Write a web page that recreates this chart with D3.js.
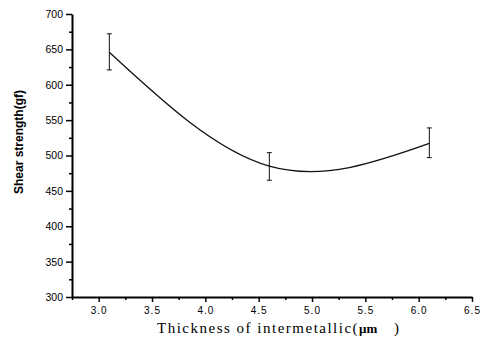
<!DOCTYPE html>
<html>
<head>
<meta charset="utf-8">
<script src="https://cdn.jsdelivr.net/npm/d3@7"></script>
<style>
  body { margin: 0; background: #fff; }
  svg { display: block; }
</style>
</head>
<body>
<div id="chart"></div>
<script>
// measured points: thickness (um), mean shear strength (gf), error bar low / high
let thickness = [3.1, 4.6, 6.1]
let strength = [646, 485, 517]
let err_low = [621, 465, 497]
let err_high = [672, 504, 539]

let x_ticks = [3.0, 3.5, 4.0, 4.5, 5.0, 5.5, 6.0, 6.5]
let y_ticks = [300, 350, 400, 450, 500, 550, 600, 650, 700]

let w = 480
let h = 343
let margin = {left: 72, right: 8, top: 14, bottom: 46}

let svg = d3.select("#chart").append("svg")
    .attr("width", w)
    .attr("height", h)

let x = d3.scaleLinear().domain([2.75, 6.5]).range([margin.left, w - margin.right])
let y = d3.scaleLinear().domain([300, 700]).range([h - margin.bottom, margin.top])

// minor ticks first
let x_minor = x_ticks.slice(0, -1).map(d => d + 0.25).concat([2.75])
let y_minor = y_ticks.slice(0, -1).map(d => d + 25)

svg.append("g")
    .attr("transform", `translate(0, ${y(300)})`)
    .call(d3.axisBottom(x).tickValues(x_minor).tickSize(3).tickFormat(""))
    .call(g => g.select(".domain").remove())
    .call(g => g.selectAll("line").attr("stroke-width", 1.5))

svg.append("g")
    .attr("transform", `translate(${x(2.75)}, 0)`)
    .call(d3.axisLeft(y).tickValues(y_minor).tickSize(3).tickFormat(""))
    .call(g => g.select(".domain").remove())
    .call(g => g.selectAll("line").attr("stroke-width", 1.5))

let x_axis = svg.append("g")
    .attr("transform", `translate(0, ${y(300)})`)
    .call(d3.axisBottom(x).tickValues(x_ticks).tickSize(5).tickSizeOuter(0).tickPadding(5)
        .tickFormat(d3.format(".1f")))
x_axis.select(".domain").attr("stroke-width", 2)
x_axis.selectAll("line").attr("stroke-width", 1.5)
x_axis.selectAll("text")
    .attr("font-family", "Liberation Sans, Arial, sans-serif")
    .attr("font-size", 10)
    .attr("letter-spacing", 1)
    .attr("fill", "#000")

let y_axis = svg.append("g")
    .attr("transform", `translate(${x(2.75)}, 0)`)
    .call(d3.axisLeft(y).tickValues(y_ticks).tickSize(6).tickSizeOuter(0).tickPadding(3))
y_axis.select(".domain").attr("stroke-width", 2)
y_axis.selectAll("line").attr("stroke-width", 1.5)
y_axis.selectAll("text")
    .attr("font-family", "Liberation Sans, Arial, sans-serif")
    .attr("font-size", 10.5)
    .attr("fill", "#000")

// fitted curve through the means
let line = d3.line()
    .x((d, i) => x(thickness[i]))
    .y(d => y(d))
    .curve(d3.curveNatural)

svg.append("path")
    .datum(strength)
    .attr("d", line)
    .attr("fill", "none")
    .attr("stroke", "#111")
    .attr("stroke-width", 1.3)

// error bars
let bars = svg.selectAll(".err")
    .data(thickness)
    .enter()
    .append("g")
    .attr("class", "err")

bars.append("line")
    .attr("x1", d => x(d)).attr("x2", d => x(d))
    .attr("y1", (d, i) => y(err_low[i]))
    .attr("y2", (d, i) => y(err_high[i]))
    .attr("stroke", "#111").attr("stroke-width", 1)

bars.selectAll(".cap")
    .data((d, i) => [[d, err_low[i]], [d, err_high[i]]])
    .enter()
    .append("line")
    .attr("x1", d => x(d[0]) - 2.5).attr("x2", d => x(d[0]) + 2.5)
    .attr("y1", d => y(d[1])).attr("y2", d => y(d[1]))
    .attr("stroke", "#111").attr("stroke-width", 1)

svg.append("text")
    .attr("transform", "translate(23, 142) rotate(-90)")
    .attr("text-anchor", "middle")
    .attr("font-family", "Liberation Sans, Arial, sans-serif")
    .attr("font-weight", "bold")
    .attr("font-size", 12)
    .attr("fill", "#000")
    .text("Shear strength(gf)")

let xlab = svg.append("text")
    .attr("y", 333)
    .attr("font-family", "Liberation Serif, Times New Roman, serif")
    .attr("font-size", 15)
    .attr("fill", "#000")
xlab.append("tspan")
    .attr("x", 157)
    .attr("letter-spacing", 1.5)
    .text("Thickness of intermetallic(")
xlab.append("tspan")
    .attr("font-weight", "bold")
    .attr("font-size", 13)
    .text("μm")
xlab.append("tspan")
    .attr("x", 394)
    .text(")")
</script>
</body>
</html>
